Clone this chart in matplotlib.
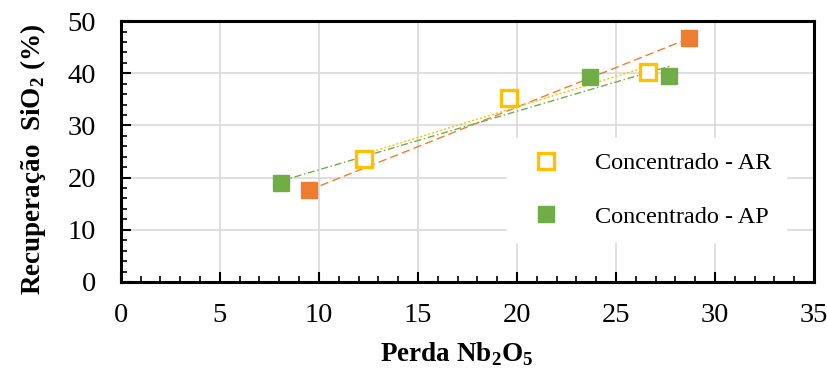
import numpy as np
import matplotlib.pyplot as plt
from matplotlib.ticker import MultipleLocator

plt.rcParams['font.family'] = ['Liberation Serif', 'DejaVu Serif']
plt.rcParams['mathtext.fontset'] = 'custom'
plt.rcParams['mathtext.rm'] = 'Liberation Serif'
plt.rcParams['mathtext.bf'] = 'Liberation Serif:bold'

# Data
ar_x = [12.3, 19.6, 26.6]
ar_y = [23.5, 35.2, 40.2]
ap_x = [8.1, 23.7, 27.7]
ap_y = [18.9, 39.2, 39.5]
or_x = [9.5, 28.7]
or_y = [17.6, 46.7]

c_ar = '#FFC000'
c_ap = '#70AD47'
c_or = '#ED7D31'

fig = plt.figure(figsize=(8.28, 3.71), dpi=100)
ax = fig.add_axes([0.146, 0.240, 0.837, 0.703])

# Trend lines (linear fits)
def trend(x, y, color, ls):
    p = np.polyfit(x, y, 1)
    xs = np.array([min(x), max(x)])
    ax.plot(xs, np.polyval(p, xs), color=color, ls=ls, lw=1.0, zorder=2)

trend(or_x, or_y, c_or, (0, (6, 3)))
trend(ar_x, ar_y, c_ar, (0, (1.5, 1.5)))
trend(ap_x, ap_y, c_ap, (0, (5, 2, 1, 2)))

ax.plot(or_x, or_y, 's', ms=11, color=c_or, mec=c_or, zorder=3)
ax.plot(ap_x, ap_y, 's', ms=12, color=c_ap, mec=c_ap, zorder=3,
        label='Concentrado - AP')
ax.plot(ar_x, ar_y, 's', ms=12, mfc='white', mec=c_ar, mew=2.4, zorder=4,
        label='Concentrado - AR')

ax.set_xlim(0, 35)
ax.set_ylim(0, 50)
ax.xaxis.set_major_locator(MultipleLocator(5))
ax.xaxis.set_minor_locator(MultipleLocator(1))
ax.yaxis.set_major_locator(MultipleLocator(10))
ax.yaxis.set_minor_locator(MultipleLocator(2))
ax.tick_params(which='both', direction='in', labelsize=20.5, color='black')
ax.tick_params(which='major', length=7, width=1.5)
ax.tick_params(which='minor', length=4, width=1.2)
ax.tick_params(axis='x', pad=15)
ax.tick_params(axis='y', pad=18)
ax.grid(True, which='major', color='#D9D9D9', lw=1.2, zorder=0)
for s in ax.spines.values():
    s.set_linewidth(2.2)
    s.set_color('black')

ax.set_xlabel('Perda Nb$_\\mathbf{2}$O$_\\mathbf{5}$', fontsize=19.5,
              fontweight='bold')
ax.set_ylabel('Recuperação  SiO$_\\mathbf{2}$ (%)', fontsize=19.5,
              fontweight='bold')
ax.xaxis.set_label_coords(0.485, -0.225)
ax.yaxis.set_label_coords(-0.105, 0.47)

h, l = ax.get_legend_handles_labels()
leg = ax.legend(h[::-1], l[::-1], loc='upper left',
                bbox_to_anchor=(0.54, 0.60), fontsize=17.5, frameon=True,
                framealpha=1, edgecolor='white', fancybox=False,
                labelspacing=1.3, handletextpad=1.0, borderpad=0.6,
                markerscale=0.95)
leg.set_zorder(5)

fig.savefig('out.png', dpi=100)
